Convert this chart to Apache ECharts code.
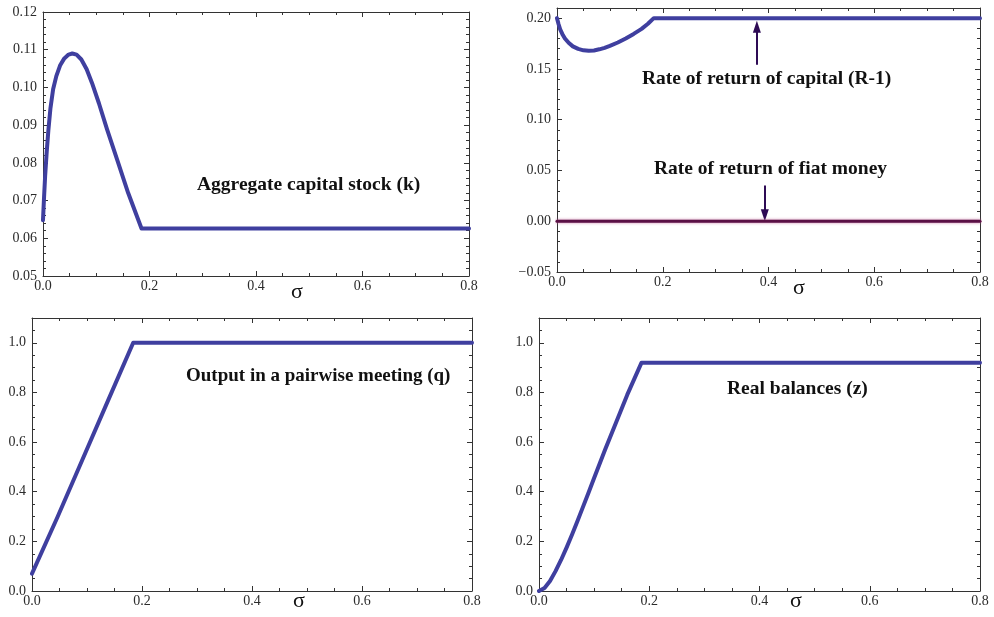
<!DOCTYPE html>
<html>
<head>
<meta charset="utf-8">
<script src="https://cdn.jsdelivr.net/npm/echarts@6/dist/echarts.min.js"></script>
<style>
html,body{margin:0;padding:0;background:#fff;}
#c{width:994px;height:617px;}
</style>
</head>
<body>
<div id="c"></div>
<script>
// ---- data ----
const kSigma  = [0, 0.002, 0.004, 0.007, 0.01, 0.014, 0.019, 0.025, 0.032, 0.04, 0.048, 0.055, 0.063, 0.072, 0.082, 0.092, 0.105, 0.12, 0.14, 0.16, 0.185, 0.8];
const kValues = [0.0648, 0.071, 0.0765, 0.083, 0.0885, 0.0945, 0.0995, 0.103, 0.1058, 0.1077, 0.1087, 0.109, 0.1087, 0.1074, 0.1048, 0.1012, 0.0958, 0.089, 0.0805, 0.072, 0.0626, 0.0626];

const rSigma  = [0, 0.003, 0.006, 0.01, 0.015, 0.022, 0.03, 0.04, 0.05, 0.06, 0.07, 0.08, 0.09, 0.1, 0.115, 0.13, 0.145, 0.16, 0.172, 0.183, 0.8];
const rValues = [0.2, 0.194, 0.189, 0.1845, 0.18, 0.1757, 0.1722, 0.1697, 0.1683, 0.1678, 0.1682, 0.1693, 0.1708, 0.1727, 0.176, 0.18, 0.1845, 0.1895, 0.1945, 0.2, 0.2];

const fiatSigma  = [0, 0.8];
const fiatValues = [0, 0];

const qSigma  = [0, 0.046, 0.092, 0.138, 0.184, 0.8];
const qValues = [0.07, 0.296, 0.531, 0.766, 1.0, 1.0];

const zSigma  = [0, 0.01, 0.02, 0.03, 0.04, 0.05, 0.06, 0.07, 0.08, 0.09, 0.1, 0.12, 0.14, 0.16, 0.186, 0.8];
const zValues = [0, 0.012, 0.04, 0.08, 0.125, 0.175, 0.228, 0.283, 0.34, 0.397, 0.455, 0.57, 0.68, 0.79, 0.92, 0.92];

const xTickLabels = ['0.0', '0.2', '0.4', '0.6', '0.8'];

const arrowCapital = [[0.378, 0.154], [0.378, 0.1915]];
const arrowFiat    = [[0.393, 0.0353], [0.393, 0.006]];

// ---- helpers ----
const pairs = (xs, ys) => xs.map((x, i) => [x, ys[i]]);
const FONT = '"Liberation Serif", "Times New Roman", serif';
const AXC = '#333';
const LINE = '#3f3f9f';

const grids = [
  {left: 43, top: 12, width: 426, height: 264},
  {left: 557, top: 8, width: 423, height: 264},
  {left: 32, top: 318, width: 440, height: 273},
  {left: 539, top: 318, width: 441, height: 273}
].map(g => Object.assign({outerBoundsMode: 'none', containLabel: false, show: false}, g));

const yCfg = [
  {min: 0.05, max: 0.12, interval: 0.01, minor: 5, fmt: v => v.toFixed(2)},
  {min: -0.05, max: 0.21, interval: 0.05, minor: 5, fmt: v => (v < 0 ? '\u2212' + Math.abs(v).toFixed(2) : v.toFixed(2))},
  {min: 0, max: 1.1, interval: 0.2, minor: 4, fmt: v => v.toFixed(1)},
  {min: 0, max: 1.1, interval: 0.2, minor: 4, fmt: v => v.toFixed(1)}
];

const axisCommon = {
  axisLine: {show: true, onZero: false, lineStyle: {color: AXC, width: 1}},
  axisTick: {show: true, inside: true, length: 5, lineStyle: {color: AXC, width: 1}},
  minorTick: {show: true, length: 3, lineStyle: {color: AXC, width: 1}},
  splitLine: {show: false},
  minorSplitLine: {show: false}
};

const xAxes = [], yAxes = [];
for (let i = 0; i < 4; i++) {
  xAxes.push(Object.assign({}, axisCommon, {
    type: 'value', gridIndex: i, position: 'bottom', min: 0, max: 0.8, interval: 0.2,
    minorTick: Object.assign({}, axisCommon.minorTick, {splitNumber: 4}),
    axisLabel: {show: true, margin: 3, color: '#2b2b2b', fontFamily: FONT, fontSize: 14,
      hideOverlap: false, showMinLabel: true, showMaxLabel: true,
      formatter: v => xTickLabels[Math.round(v / 0.2)]}
  }));
  xAxes.push(Object.assign({}, axisCommon, {
    type: 'value', gridIndex: i, position: 'top', min: 0, max: 0.8, interval: 0.2,
    minorTick: Object.assign({}, axisCommon.minorTick, {splitNumber: 4}),
    axisLabel: {show: false}
  }));
  const c = yCfg[i];
  yAxes.push(Object.assign({}, axisCommon, {
    type: 'value', gridIndex: i, position: 'left', min: c.min, max: c.max, interval: c.interval,
    minorTick: Object.assign({}, axisCommon.minorTick, {splitNumber: c.minor}),
    axisLabel: {show: true, margin: 6, color: '#2b2b2b', fontFamily: FONT, fontSize: 14,
      hideOverlap: false, showMinLabel: true,
      formatter: v => (Math.abs(v - c.max) < 1e-9 && Math.abs((c.max - c.min) / c.interval - Math.round((c.max - c.min) / c.interval)) > 1e-6) ? '' : c.fmt(v)}
  }));
  yAxes.push(Object.assign({}, axisCommon, {
    type: 'value', gridIndex: i, position: 'right', min: c.min, max: c.max, interval: c.interval,
    minorTick: Object.assign({}, axisCommon.minorTick, {splitNumber: c.minor}),
    axisLabel: {show: false}
  }));
}

const lineSeries = (name, idx, data, color, width) => ({
  name, type: 'line', xAxisIndex: idx * 2, yAxisIndex: idx * 2, data,
  showSymbol: false, symbol: 'none', smooth: false, silent: true, z: 5,
  lineStyle: {color, width, cap: 'round', join: 'round'}
});

const arrowLine = (pts) => ({
  silent: true, symbol: ['none', 'triangle'], symbolSize: [8, 12],
  label: {show: false},
  lineStyle: {color: '#2e0b55', width: 2, type: 'solid'},
  data: [[{coord: pts[0]}, {coord: pts[1]}]]
});

const sKapital = lineSeries('k', 0, pairs(kSigma, kValues), LINE, 4);
const sR = lineSeries('R-1', 1, pairs(rSigma, rValues), LINE, 4);
sR.markLine = arrowLine(arrowCapital);
const sFiat = lineSeries('fiat', 1, pairs(fiatSigma, fiatValues), '#5a1045', 3);
sFiat.lineStyle.shadowColor = 'rgba(200,110,160,0.9)';
sFiat.lineStyle.shadowBlur = 3;
sFiat.markLine = arrowLine(arrowFiat);
const sQ = lineSeries('q', 2, pairs(qSigma, qValues), LINE, 4);
const sZ = lineSeries('z', 3, pairs(zSigma, zValues), LINE, 4);

const ann = (text, x, y, size) => ({
  type: 'text', left: x, top: y, silent: true,
  style: {text, fill: '#111', font: 'bold ' + size + 'px ' + FONT}
});
const sig = (x, y) => ({
  type: 'text', left: x, top: y, silent: true,
  style: {text: '\u03c3', fill: '#111', font: '22px ' + FONT}
});

const option = {
  animation: false,
  backgroundColor: '#ffffff',
  grid: grids,
  xAxis: xAxes,
  yAxis: yAxes,
  series: [sKapital, sR, sFiat, sQ, sZ],
  graphic: [
    ann('Aggregate capital stock (k)', 197, 175, 19.5),
    ann('Rate of return of capital (R-1)', 642, 69, 19.5),
    ann('Rate of return of fiat money', 654, 159, 19.5),
    ann('Output in a pairwise meeting (q)', 186, 367, 19),
    ann('Real balances (z)', 727, 379, 19.5),
    sig(291, 281), sig(793, 277), sig(293, 590), sig(790, 590)
  ]
};

const chart = echarts.init(document.getElementById('c'), null, {renderer: 'canvas'});
chart.setOption(option);
</script>
</body>
</html>
